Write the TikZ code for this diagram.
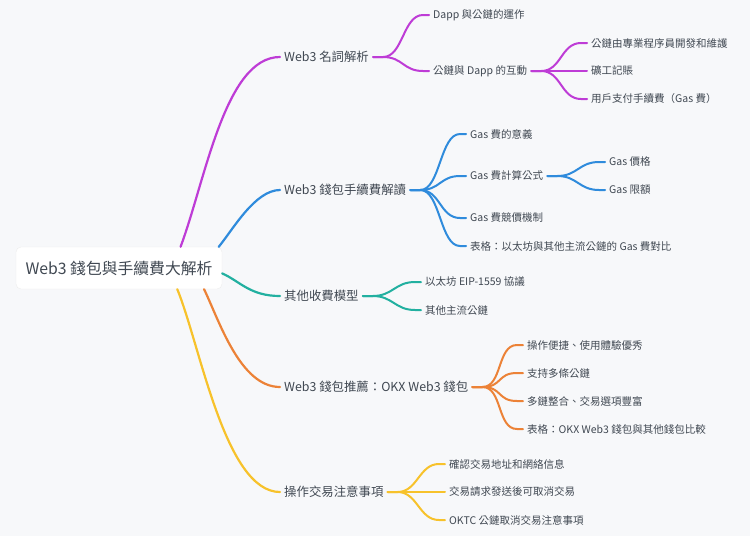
\documentclass[tikz,border=0pt]{standalone}
\usepackage{fontspec}
\setmainfont{Noto Sans CJK TC}
\usepackage{xcolor}
\usetikzlibrary{calc}

\definecolor{bgpaper}{HTML}{F7F8FA}
\definecolor{inkgray}{HTML}{404852}
\definecolor{mmpurple}{HTML}{BE3CD6}
\definecolor{mmblue}{HTML}{2F8BDC}
\definecolor{mmteal}{HTML}{22B0A0}
\definecolor{mmorange}{HTML}{EC8237}
\definecolor{mmyellow}{HTML}{F7C22B}

% one child edge: stub after the parent, S-curve, short run-in
\newcommand{\twig}[3]{%
  \draw[branch, #1] (#2.east) -- ++(10,0)
    .. controls +(20,0) and +(-20,0) .. ([xshift=-6pt]#3.west) -- (#3.west);}

\begin{document}
\begin{tikzpicture}[x=1pt, y=-1pt]
    \tikzset{
        rootbox/.style={draw=black!7, fill=white, rounded corners=5pt, minimum width=206pt, minimum height=42pt,
            text=inkgray, font=\fontsize{15.8}{18}\selectfont},
        topic/.style={anchor=west, inner xsep=4pt, inner ysep=1pt, text=inkgray, font=\fontsize{12.4}{14}\selectfont},
        subtopic/.style={anchor=west, inner xsep=4pt, inner ysep=1pt, text=inkgray, font=\fontsize{10.5}{12}\selectfont},
        branch/.style={line width=2pt, line cap=round},
        trunk/.style={line width=2.2pt, line cap=round}
    }

    \fill[bgpaper] (0,0) rectangle (750,536);

    % root
    \node[rootbox] (root) at (119,268) {Web3 錢包與手續費大解析};

    % first level
    \node[topic] (terms) at (280,57) {Web3 名詞解析};
    \node[topic] (fees) at (280,190) {Web3 錢包手續費解讀};
    \node[topic] (models) at (280,296) {其他收費模型};
    \node[topic] (okx) at (280,387) {Web3 錢包推薦：OKX Web3 錢包};
    \node[topic] (tips) at (280,492) {操作交易注意事項};

    \draw[trunk, mmpurple] (root.19) .. controls +(25,-67) and +(-55,0) .. (terms.west);
    \draw[trunk, mmblue] (root.12) .. controls +(14,-17) and +(-25,0) .. (fees.west);
    \draw[trunk, mmteal] (root.-3) .. controls +(18,8) and +(-30,0) .. (models.west);
    \draw[trunk, mmorange] (root.-14) .. controls +(15,31) and +(-40,0) .. (okx.west);
    \draw[trunk, mmyellow] (root.-20) .. controls +(23,56) and +(-55,0) .. (tips.west);

    % Web3 terms
    \node[subtopic] (dapp) at (429,15) {Dapp 與公鏈的運作};
    \node[subtopic] (interact) at (429,71) {公鏈與 Dapp 的互動};
    \node[subtopic] (devs) at (587,43) {公鏈由專業程序員開發和維護};
    \node[subtopic] (miners) at (587,71) {礦工記賬};
    \node[subtopic] (users) at (587,99) {用戶支付手續費（Gas 費）};
    \foreach \c in {dapp, interact} {\twig{mmpurple}{terms}{\c}}
    \foreach \c in {devs, miners, users} {\twig{mmpurple}{interact}{\c}}

    % wallet fees
    \node[subtopic] (meaning) at (466,134) {Gas 費的意義};
    \node[subtopic] (formula) at (466,176) {Gas 費計算公式};
    \node[subtopic] (price) at (605,162) {Gas 價格};
    \node[subtopic] (limit) at (605,190) {Gas 限額};
    \node[subtopic] (bidding) at (466,218) {Gas 費競價機制};
    \node[subtopic] (chaintable) at (466,246) {表格：以太坊與其他主流公鏈的 Gas 費對比};
    \foreach \c in {meaning, formula, bidding, chaintable} {\twig{mmblue}{fees}{\c}}
    \foreach \c in {price, limit} {\twig{mmblue}{formula}{\c}}

    % other fee models
    \node[subtopic] (eip) at (421,282) {以太坊 EIP-1559 協議};
    \node[subtopic] (otherchains) at (421,310) {其他主流公鏈};
    \foreach \c in {eip, otherchains} {\twig{mmteal}{models}{\c}}

    % OKX wallet
    \node[subtopic] (easy) at (523,345) {操作便捷、使用體驗優秀};
    \node[subtopic] (multi) at (523,373) {支持多條公鏈};
    \node[subtopic] (merge) at (523,401) {多鏈整合、交易選項豐富};
    \node[subtopic] (wallettable) at (523,429) {表格：OKX Web3 錢包與其他錢包比較};
    \foreach \c in {easy, multi, merge, wallettable} {\twig{mmorange}{okx}{\c}}

    % trading tips
    \node[subtopic] (address) at (445,464) {確認交易地址和網絡信息};
    \node[subtopic] (cancel) at (445,492) {交易請求發送後可取消交易};
    \node[subtopic] (oktc) at (445,520) {OKTC 公鏈取消交易注意事項};
    \foreach \c in {address, cancel, oktc} {\twig{mmyellow}{tips}{\c}}
\end{tikzpicture}
\end{document}
